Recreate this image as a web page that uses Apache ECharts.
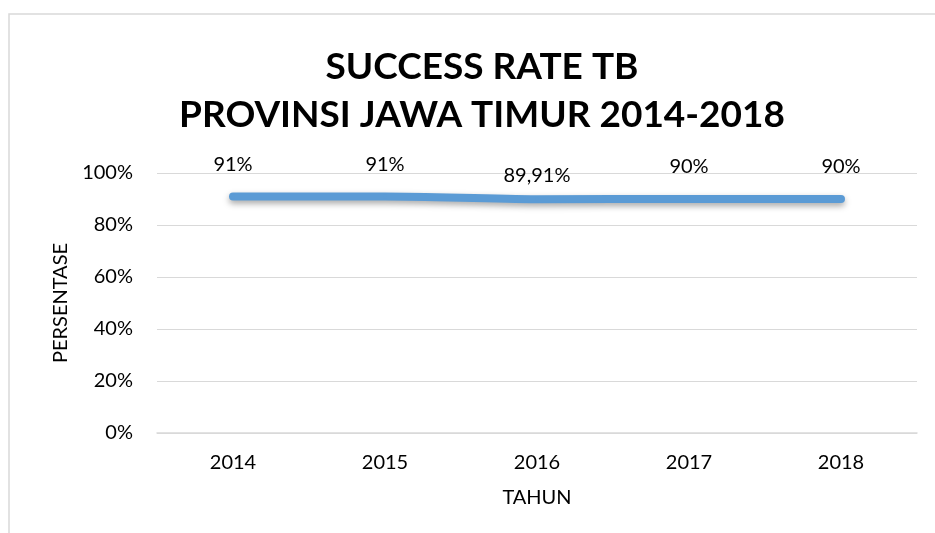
<!DOCTYPE html>
<html>
<head>
<meta charset="utf-8">
<script src="https://cdn.jsdelivr.net/npm/echarts@6/dist/echarts.min.js"></script>
<style>
  html, body { margin: 0; padding: 0; background: #fff; }
  #chart { width: 935px; height: 533px; }
</style>
</head>
<body>
<div id="chart"></div>
<script>
// data
var years = ['2014', '2015', '2016', '2017', '2018'];
var successRate = [0.91, 0.91, 0.8991, 0.90, 0.90];
var rateLabels = ['91%', '91%', '89,91%', '90%', '90%'];

var fontName = 'Lato, "Open Sans", sans-serif';

var chart = echarts.init(document.getElementById('chart'));

var seriesData = [];
for (var i = 0; i < years.length; i++) {
    var item = { value: successRate[i] };
    // the 2016 label sits lower in the original
    if (i === 2) {
        item.label = { offset: [0, 8] };
    }
    seriesData.push(item);
}

var option = {
    backgroundColor: '#fff',
    animation: false,
    graphic: [{
        type: 'polyline',
        shape: { points: [[9, 533], [9, 14], [935, 14]] },
        style: { stroke: '#d9d9d9', lineWidth: 1.5, fill: null }
    }],
    title: {
        text: 'SUCCESS RATE TB\nPROVINSI JAWA TIMUR 2014-2018',
        left: 477,
        textAlign: 'center',
        top: 38,
        textStyle: {
            fontFamily: fontName,
            fontWeight: 'bold',
            fontSize: 37,
            lineHeight: 48,
            color: '#000'
        }
    },
    grid: {
        left: 157,
        right: 18,
        top: 173,
        bottom: 100
    },
    xAxis: {
        type: 'category',
        data: years,
        name: 'TAHUN',
        nameLocation: 'middle',
        nameGap: 55,
        nameTextStyle: { fontFamily: fontName, fontSize: 20, color: '#000' },
        axisLine: { lineStyle: { color: '#d9d9d9', width: 1.5 } },
        axisTick: { show: false },
        axisLabel: {
            margin: 20,
            fontFamily: fontName,
            fontSize: 20,
            color: '#000'
        }
    },
    yAxis: {
        type: 'value',
        min: 0,
        max: 1,
        interval: 0.2,
        name: 'PERSENTASE',
        nameLocation: 'middle',
        nameGap: 86,
        nameRotate: 90,
        nameTextStyle: { fontFamily: fontName, fontSize: 20, color: '#000' },
        axisLine: { show: false },
        axisTick: { show: false },
        splitLine: { lineStyle: { color: '#d9d9d9', width: 1 } },
        axisLabel: {
            margin: 24,
            fontFamily: fontName,
            fontSize: 20,
            color: '#000',
            formatter: function (v) {
                return Math.round(v * 100) + '%';
            }
        }
    },
    series: [{
        type: 'line',
        data: seriesData,
        smooth: 0.3,
        symbol: 'circle',
        symbolSize: 4,
        itemStyle: { color: '#5b9bd5' },
        lineStyle: {
            color: '#5b9bd5',
            width: 8,
            cap: 'round',
            shadowColor: 'rgba(0,0,0,0.35)',
            shadowBlur: 6,
            shadowOffsetY: 3
        },
        label: {
            show: true,
            position: 'top',
            distance: 20,
            fontFamily: fontName,
            fontSize: 20,
            color: '#000',
            formatter: function (p) {
                return rateLabels[p.dataIndex];
            }
        }
    }]
};

chart.setOption(option);
</script>
</body>
</html>
